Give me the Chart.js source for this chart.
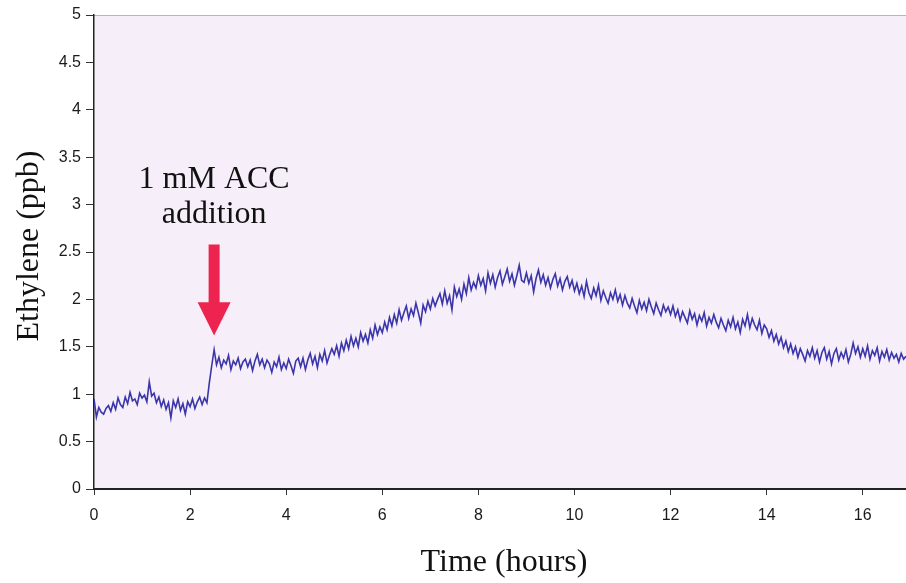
<!DOCTYPE html>
<html>
<head>
<meta charset="utf-8">
<script src="https://cdn.jsdelivr.net/npm/chart.js@4/dist/chart.umd.min.js"></script>
<style>
  html, body { margin: 0; padding: 0; background: #ffffff; }
  #wrap { width: 906px; height: 583px; position: relative; }
</style>
</head>
<body>
<div id="wrap"><canvas id="c" width="906" height="583"></canvas></div>
<script>
// ---- Data ----
const xTickLabels = ['0', '2', '4', '6', '8', '10', '12', '14', '16'];
const yTickLabels = ['0', '0.5', '1', '1.5', '2', '2.5', '3', '3.5', '4', '4.5', '5'];
const sampleStepHours = 0.05;   // one reading every 3 minutes
// Ethylene (ppb), one row per hour
const ethylene = [
  // 0 h
  0.95,0.76,0.86,0.81,0.79,0.85,0.88,0.82,0.91,0.84,0.96,0.89,0.86,0.97,0.90,1.02,0.93,0.95,0.89,1.01,
  // 1 h
  0.96,0.99,0.92,1.13,0.98,1.01,0.91,0.97,0.87,0.94,0.84,0.91,0.75,0.93,0.86,0.95,0.83,0.90,0.79,0.92,
  // 2 h
  0.87,0.95,0.85,0.92,0.97,0.89,0.96,0.91,1.12,1.30,1.47,1.31,1.39,1.28,1.36,1.32,1.41,1.26,1.35,1.31,
  // 3 h
  1.38,1.27,1.34,1.37,1.29,1.36,1.25,1.35,1.42,1.31,1.37,1.28,1.36,1.32,1.23,1.34,1.29,1.39,1.26,1.33,
  // 4 h
  1.27,1.37,1.30,1.22,1.35,1.38,1.29,1.38,1.26,1.36,1.43,1.32,1.40,1.28,1.42,1.35,1.46,1.33,1.41,1.48,
  // 5 h
  1.42,1.51,1.40,1.54,1.46,1.57,1.48,1.61,1.51,1.59,1.50,1.65,1.56,1.63,1.54,1.68,1.59,1.73,1.63,1.71,
  // 6 h
  1.65,1.76,1.68,1.81,1.72,1.84,1.75,1.89,1.78,1.86,1.93,1.80,1.90,1.83,1.96,1.86,1.75,1.94,1.87,1.98,
  // 7 h
  1.90,2.01,1.93,2.00,2.06,1.95,2.09,1.96,2.04,1.89,2.13,2.03,2.11,2.00,2.16,2.06,2.23,2.10,2.18,2.12,
  // 8 h
  2.25,2.15,2.22,2.09,2.28,2.17,2.26,2.13,2.23,2.30,2.16,2.24,2.32,2.19,2.27,2.15,2.25,2.36,2.20,2.18,
  // 9 h
  2.28,2.17,2.25,2.08,2.22,2.31,2.18,2.26,2.15,2.23,2.12,2.21,2.27,2.14,2.22,2.10,2.19,2.24,2.13,2.20,
  // 10 h
  2.09,2.17,2.06,2.14,2.03,2.19,2.07,2.01,2.12,2.04,2.15,1.99,2.09,2.02,1.96,2.07,2.00,2.10,1.98,2.05,
  // 11 h
  1.94,2.04,1.96,1.91,2.01,1.93,1.86,1.99,1.90,1.97,1.88,2.00,1.92,1.85,1.96,1.89,1.83,1.94,1.87,1.92,
  // 12 h
  1.84,1.93,1.82,1.89,1.78,1.87,1.81,1.75,1.88,1.79,1.85,1.73,1.83,1.77,1.86,1.72,1.81,1.75,1.84,1.76,
  // 13 h
  1.70,1.80,1.73,1.67,1.78,1.71,1.81,1.69,1.76,1.65,1.79,1.72,1.84,1.70,1.80,1.73,1.68,1.78,1.64,1.73,
  // 14 h
  1.69,1.60,1.67,1.56,1.63,1.53,1.60,1.49,1.56,1.45,1.53,1.43,1.50,1.39,1.48,1.42,1.35,1.46,1.40,1.49,
  // 15 h
  1.38,1.46,1.34,1.44,1.49,1.37,1.45,1.32,1.43,1.48,1.36,1.44,1.38,1.47,1.34,1.42,1.54,1.43,1.50,1.39,
  // 16 h
  1.48,1.40,1.51,1.37,1.46,1.41,1.49,1.35,1.45,1.39,1.47,1.36,1.44,1.38,1.42,1.34,1.43,1.37,1.40
];
const annotationLines = ['1 mM ACC', 'addition'];
const xTitle = 'Time (hours)';
const yTitle = 'Ethylene (ppb)';

// ---- Annotation placement (in data units) ----
const arrowAt = { x: 2.5, top: 2.58, headTop: 1.97, tip: 1.62 };
const labelBaselines = [3.17, 2.81];

// ---- Build points ----
const points = ethylene.map((v, i) => ({ x: +(i * sampleStepHours).toFixed(2), y: v }));

const tickFont = { family: '"Liberation Sans Narrow", "Liberation Sans", Arial, sans-serif', size: 16 };

const bgPlugin = {
  id: 'plotBg',
  beforeDraw(chart) {
    const { ctx, chartArea: a } = chart;
    ctx.save();
    ctx.fillStyle = '#f6eef8';
    ctx.fillRect(a.left, a.top, a.right - a.left, a.bottom - a.top);
    ctx.strokeStyle = '#b8aed6';
    ctx.lineWidth = 1;
    ctx.beginPath();
    ctx.moveTo(a.left, a.top + 0.5);
    ctx.lineTo(a.right, a.top + 0.5);
    ctx.stroke();
    ctx.restore();
  }
};

const overlayPlugin = {
  id: 'overlay',
  afterDraw(chart) {
    const { ctx } = chart;
    const xs = chart.scales.x, ys = chart.scales.y;
    ctx.save();
    ctx.fillStyle = '#111111';
    ctx.font = '32px "Liberation Serif", "Times New Roman", serif';
    ctx.textAlign = 'center';
    ctx.textBaseline = 'alphabetic';
    const cx = xs.getPixelForValue(arrowAt.x);
    annotationLines.forEach((t, i) => ctx.fillText(t, cx, ys.getPixelForValue(labelBaselines[i])));
    const yTop = ys.getPixelForValue(arrowAt.top);
    const yHead = ys.getPixelForValue(arrowAt.headTop);
    const yTip = ys.getPixelForValue(arrowAt.tip);
    ctx.fillStyle = '#ee2450';
    ctx.beginPath();
    ctx.moveTo(cx - 5.5, yTop);
    ctx.lineTo(cx + 5.5, yTop);
    ctx.lineTo(cx + 5.5, yHead);
    ctx.lineTo(cx + 16.5, yHead);
    ctx.lineTo(cx, yTip);
    ctx.lineTo(cx - 16.5, yHead);
    ctx.lineTo(cx - 5.5, yHead);
    ctx.closePath();
    ctx.fill();
    ctx.fillStyle = '#111111';
    ctx.textBaseline = 'middle';
    ctx.fillText(xTitle, 504, 563);
    ctx.translate(30, 246);
    ctx.rotate(-Math.PI / 2);
    ctx.fillText(yTitle, 0, 0);
    ctx.restore();
  }
};

new Chart(document.getElementById('c'), {
  type: 'line',
  data: {
    datasets: [{
      data: points,
      borderColor: '#3a36aa',
      borderWidth: 1.6,
      pointRadius: 0,
      tension: 0,
      fill: false
    }]
  },
  options: {
    responsive: false,
    animation: false,
    layout: { padding: { top: 15, right: 0, left: 0, bottom: 0 } },
    plugins: { legend: { display: false }, tooltip: { enabled: false } },
    scales: {
      x: {
        type: 'linear',
        min: 0,
        max: 16.9,
        afterFit(s) { s.height = 94; },
        afterBuildTicks(s) {
          s.ticks = xTickLabels.map(l => ({ value: parseFloat(l) }));
        },
        ticks: {
          stepSize: 2,
          includeBounds: false,
          padding: 11,
          color: '#1a1a1a',
          font: tickFont,
          maxRotation: 0,
          callback: (v) => xTickLabels.includes(String(v)) ? String(v) : ''
        },
        grid: { drawOnChartArea: false, drawTicks: true, tickLength: 6, color: '#333333' },
        border: { display: true, color: '#222222', width: 2 }
      },
      y: {
        type: 'linear',
        min: 0,
        max: 5,
        afterFit(s) { s.width = 94; },
        afterBuildTicks(s) {
          s.ticks = yTickLabels.map(l => ({ value: parseFloat(l) }));
        },
        ticks: {
          stepSize: 0.5,
          padding: 5,
          color: '#1a1a1a',
          font: tickFont,
          callback: (v) => { const s = String(v); return yTickLabels.includes(s) ? s : ''; }
        },
        grid: { drawOnChartArea: false, drawTicks: true, tickLength: 8, color: '#333333' },
        border: { display: true, color: '#222222', width: 1.5 }
      }
    }
  },
  plugins: [bgPlugin, overlayPlugin]
});
</script>
</body>
</html>
